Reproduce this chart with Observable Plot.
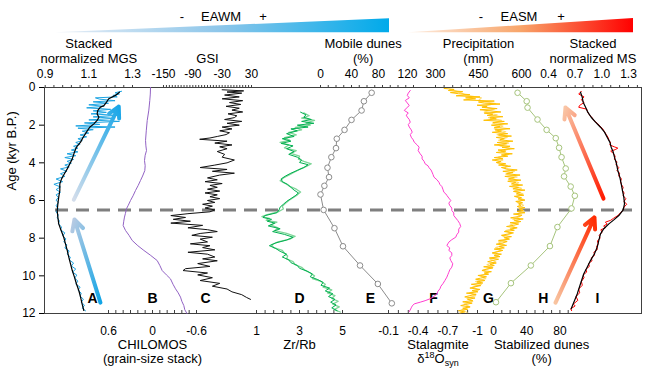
<!DOCTYPE html>
<html><head><meta charset="utf-8">
<script src="https://cdn.jsdelivr.net/npm/d3@7"></script>
<script src="https://cdn.jsdelivr.net/npm/@observablehq/plot@0.6"></script>
<style>
body{margin:0;background:#fff;}
#chart{position:relative;width:650px;height:371px;font-family:"Liberation Sans",Arial,sans-serif;}
#chart svg{position:absolute;left:0;top:0;background:transparent;}
</style></head><body><div id="chart"></div>
<script>
// ---------------- DATA (age kyr B.P., value) ----------------
const ageTicks = [0, 2, 4, 6, 8, 10, 12];
const boundaryAge = [6.5];

// A: stacked normalized MGS
const mgsRaw = [[0.20,1.25],[0.28,1.22],[0.35,1.24],[0.42,1.21],[0.50,1.23],[0.55,1.13],[0.62,1.15],[0.70,1.22],[0.76,1.12],[0.84,1.19],[0.92,1.10],[1.00,1.17],[1.08,1.09],[1.16,1.20],[1.24,1.12],[1.32,1.18],[1.40,1.11],[1.48,1.23],[1.56,1.12],[1.64,1.22],[1.72,1.10],[1.80,1.24],[1.88,1.08],[1.96,1.15],[2.04,1.04],[2.10,1.22],[2.16,1.05],[2.24,1.12],[2.32,1.07],[2.42,1.10],[2.52,1.06],[2.62,1.09],[2.72,1.05],[2.82,1.07],[2.92,1.04],[3.02,1.06],[3.12,1.03],[3.22,1.05],[3.32,1.02],[3.42,1.05],[3.52,1.00],[3.62,1.04],[3.72,0.99],[3.82,1.03],[3.92,1.00],[4.02,1.02],[4.12,0.99],[4.22,1.01],[4.32,0.97],[4.45,1.00],[4.58,0.97],[4.72,0.99],[4.86,0.95],[5.00,0.98],[5.14,0.94],[5.28,0.97],[5.42,0.95],[5.56,0.97],[5.70,0.95],[5.84,0.96],[5.98,0.95],[6.12,0.96],[6.28,0.95],[6.44,0.96],[6.60,0.95],[6.76,0.96],[6.92,0.955],[7.08,0.965],[7.24,0.96],[7.40,0.975],[7.56,0.97],[7.72,0.99],[7.88,0.98],[8.04,0.995],[8.20,0.985],[8.36,1.00],[8.52,0.99],[8.68,1.01],[8.84,1.00],[9.00,1.015],[9.16,1.01],[9.32,1.03],[9.48,1.02],[9.64,1.04],[9.80,1.025],[9.96,1.045],[10.12,1.035],[10.28,1.05],[10.44,1.04],[10.60,1.06],[10.76,1.05],[10.92,1.065],[11.08,1.06],[11.24,1.075],[11.40,1.065],[11.56,1.08],[11.72,1.07],[11.86,1.085]];
const mgsSmooth = [[0.25,1.240],[0.42,1.222],[0.60,1.191],[0.78,1.181],[0.96,1.169],[1.04,1.153],[1.22,1.141],[1.40,1.138],[1.58,1.146],[1.75,1.138],[1.93,1.123],[2.11,1.104],[2.37,1.089],[2.64,1.074],[2.90,1.062],[3.17,1.043],[3.43,1.034],[3.79,1.024],[4.05,1.013],[4.32,1.001],[4.58,0.988],[4.85,0.975],[5.12,0.967],[5.47,0.967],[5.82,0.962],[6.18,0.958],[6.53,0.955],[6.88,0.958],[7.24,0.962],[7.59,0.973],[7.95,0.985],[8.30,0.993],[8.65,1.001],[9.01,1.008],[9.36,1.016],[9.72,1.024],[10.07,1.034],[10.42,1.043],[10.78,1.054],[11.13,1.062],[11.49,1.069],[11.84,1.077]];
const mgsTicks = [0.9,0.94,0.98,1.02,1.06,1.1,1.14,1.18,1.22,1.26,1.3];
const mgsLabels = [0.9, 1.1, 1.3];

// B: CHILOMOS
const chilomos = [[0.00,0.027],[0.35,0.030],[0.69,0.037],[1.2,0.050],[1.75,0.072],[2.3,0.085],[2.81,0.095],[3.1,0.090],[3.35,0.082],[3.6,0.100],[3.88,0.109],[4.15,0.100],[4.41,0.105],[4.7,0.135],[4.94,0.164],[5.2,0.195],[5.47,0.232],[5.75,0.265],[6.0,0.300],[6.25,0.330],[6.44,0.355],[6.7,0.370],[6.88,0.382],[7.1,0.392],[7.33,0.400],[7.59,0.368],[7.85,0.320],[8.12,0.277],[8.4,0.200],[8.65,0.118],[8.9,0.030],[9.19,-0.064],[9.45,-0.100],[9.72,-0.132],[9.95,-0.190],[10.16,-0.245],[10.45,-0.280],[10.69,-0.314],[10.9,-0.350],[11.13,-0.382],[11.35,-0.400],[11.58,-0.427],[11.8,-0.440],[12.0,-0.470]];
const chilTicks = [0.6,0.5,0.4,0.3,0.2,0.1,0,-0.1,-0.2,-0.3,-0.4,-0.5,-0.6];
const chilLabels = [0.6, 0, -0.6];

// C: GSI
const gsi = [[0.12,-30],[0.18,14],[0.24,-20],[0.30,10],[0.40,-25],[0.50,5],[0.60,-30],[0.70,12],[0.80,-15],[0.90,8],[1.00,-22],[1.10,5],[1.20,-10],[1.30,12],[1.40,-18],[1.50,0],[1.60,-5],[1.70,-25],[1.80,10],[1.90,-20],[2.00,5],[2.10,-30],[2.20,-10],[2.30,-35],[2.40,-15],[2.50,-22],[2.60,-40],[2.68,-55],[2.75,-76],[2.85,-20],[2.95,-45],[3.05,-10],[3.15,-35],[3.25,-20],[3.40,-40],[3.55,-25],[3.70,-30],[3.85,-5],[4.00,-20],[4.12,-45],[4.25,-75],[4.35,-20],[4.45,-50],[4.55,-5],[4.65,-35],[4.80,-60],[4.90,-40],[5.00,-65],[5.10,-30],[5.20,-55],[5.30,-40],[5.40,-60],[5.50,-35],[5.60,-65],[5.70,-40],[5.80,-55],[5.90,-35],[6.00,-60],[6.10,-45],[6.20,-70],[6.30,-50],[6.40,-65],[6.50,-45],[6.60,-55],[6.70,-100],[6.80,-135],[6.90,-105],[7.00,-130],[7.10,-95],[7.20,-135],[7.32,-70],[7.45,-100],[7.55,-60],[7.65,-40],[7.75,-75],[7.85,-92],[7.95,-50],[8.05,-75],[8.20,-60],[8.30,-95],[8.40,-55],[8.50,-70],[8.62,-45],[8.75,-100],[8.85,-60],[9.00,-45],[9.10,-70],[9.20,-40],[9.35,-80],[9.50,-55],[9.62,-105],[9.72,-110],[9.85,-60],[9.95,-80],[10.10,-50],[10.25,-75],[10.40,-35],[10.55,-50],[10.70,-20],[10.85,-10],[11.00,10],[11.15,20],[11.25,28]];
const gsiTicks = d3.range(-150, 31, 6);
const gsiLabels = [-150, -90, -30, 30];

// D: Zr/Rb
const zrrbDark = [[1.31,3.05],[1.45,3.30],[1.58,3.20],[1.70,3.55],[1.80,3.10],[1.90,3.67],[2.00,2.90],[2.10,3.40],[2.20,2.60],[2.30,2.90],[2.45,2.40],[2.60,2.75],[2.72,2.20],[2.85,2.60],[2.97,2.15],[3.10,2.70],[3.25,2.40],[3.40,2.75],[3.55,2.50],[3.70,2.90],[3.85,3.10],[3.98,3.00],[4.10,3.40],[4.25,3.20],[4.40,2.90],[4.55,2.60],[4.70,2.35],[4.85,2.15],[5.00,2.20],[5.15,2.45],[5.30,2.60],[5.45,2.75],[5.60,2.95],[5.75,2.80],[5.90,2.60],[6.05,2.40],[6.20,2.25],[6.35,2.10],[6.50,2.05],[6.65,1.95],[6.80,1.40],[6.90,1.30],[7.00,1.70],[7.10,1.50],[7.20,1.85],[7.35,1.55],[7.50,2.10],[7.65,1.75],[7.80,2.30],[7.95,2.70],[8.10,2.40],[8.25,1.90],[8.40,1.60],[8.55,1.90],[8.70,2.10],[8.85,2.40],[9.00,2.20],[9.15,2.50],[9.30,2.60],[9.45,2.90],[9.60,3.00],[9.75,3.35],[9.90,3.60],[10.05,3.50],[10.20,3.85],[10.35,4.10],[10.50,4.00],[10.65,4.40],[10.80,4.20],[10.95,4.55],[11.10,4.35],[11.25,4.65],[11.40,4.45],[11.55,4.70],[11.70,4.50],[11.85,4.75]];
const zrrbLight = [[1.35,3.20],[1.50,3.45],[1.62,3.10],[1.75,3.70],[1.88,3.30],[2.00,3.50],[2.12,2.80],[2.25,3.10],[2.38,2.50],[2.52,2.85],[2.66,2.30],[2.80,2.55],[2.92,2.10],[3.05,2.50],[3.20,2.30],[3.35,2.85],[3.50,2.60],[3.65,3.00],[3.80,2.95],[3.92,3.20],[4.05,3.55],[4.20,3.30],[4.35,3.00],[4.50,2.75],[4.65,2.50],[4.80,2.25],[4.95,2.10],[5.10,2.35],[5.25,2.55],[5.40,2.85],[5.55,3.05],[5.70,2.90],[5.85,2.70],[6.00,2.50],[6.15,2.35],[6.30,2.20],[6.45,2.25],[6.60,2.00],[6.75,1.50],[6.85,1.25],[6.95,1.60],[7.05,1.45],[7.15,1.95],[7.30,1.65],[7.45,2.00],[7.60,1.85],[7.75,2.40],[7.90,2.80],[8.05,2.55],[8.20,2.00],[8.35,1.70],[8.50,1.80],[8.65,2.20],[8.80,2.30],[8.95,2.45],[9.10,2.40],[9.25,2.70],[9.40,2.80],[9.55,3.10],[9.70,3.25],[9.85,3.50],[10.00,3.70],[10.15,3.60],[10.30,4.00],[10.45,4.20],[10.60,4.10],[10.75,4.50],[10.90,4.30],[11.05,4.65],[11.20,4.50],[11.35,4.80],[11.50,4.55],[11.65,4.85],[11.80,4.60],[11.92,4.90]];
const zrTicks = [1,1.4,1.8,2.2,2.6,3,3.4,3.8,4.2,4.6,5];
const zrLabels = [1, 3, 5];

// E: mobile dunes (%)
const mobileDunes = [[0.28,66],[0.73,56],[1.22,53],[1.72,40],[2.25,31],[2.72,21],[3.22,20],[3.70,14],[4.26,9],[4.76,11],[5.22,5],[5.68,0],[6.50,4],[7.47,18],[8.43,29],[9.45,51],[10.43,74],[11.46,92]];
const mobileTicks = [0,10,20,30,40,50,60,70,80,90,100,110,120];
const mobileLabels = [0, 40, 80, 120];

// F: stalagmite d18O
const d18o = [[0.16,-0.32],[0.30,-0.30],[0.42,-0.29],[0.55,-0.31],[0.69,-0.27],[0.82,-0.29],[0.96,-0.31],[1.10,-0.28],[1.22,-0.26],[1.35,-0.30],[1.47,-0.28],[1.57,-0.29],[1.70,-0.31],[1.84,-0.32],[1.97,-0.30],[2.10,-0.31],[2.25,-0.33],[2.37,-0.34],[2.50,-0.32],[2.64,-0.33],[2.78,-0.35],[2.90,-0.36],[3.05,-0.39],[3.17,-0.41],[3.35,-0.40],[3.52,-0.42],[3.65,-0.44],[3.79,-0.44],[3.92,-0.46],[4.05,-0.47],[4.16,-0.50],[4.26,-0.51],[4.38,-0.53],[4.49,-0.54],[4.62,-0.55],[4.76,-0.56],[4.90,-0.59],[5.03,-0.61],[5.15,-0.62],[5.26,-0.64],[5.40,-0.65],[5.56,-0.66],[5.65,-0.68],[5.73,-0.69],[5.87,-0.71],[6.00,-0.73],[6.14,-0.71],[6.27,-0.72],[6.40,-0.74],[6.53,-0.74],[6.66,-0.76],[6.80,-0.76],[6.93,-0.78],[7.06,-0.80],[7.22,-0.82],[7.38,-0.83],[7.52,-0.81],[7.68,-0.81],[7.82,-0.79],[7.95,-0.78],[8.08,-0.74],[8.21,-0.71],[8.30,-0.70],[8.39,-0.69],[8.52,-0.72],[8.65,-0.71],[8.78,-0.74],[8.92,-0.74],[9.05,-0.72],[9.19,-0.73],[9.36,-0.75],[9.54,-0.74],[9.68,-0.72],[9.81,-0.71],[9.94,-0.70],[10.07,-0.69],[10.25,-0.67],[10.42,-0.65],[10.55,-0.63],[10.69,-0.62],[10.82,-0.60],[10.96,-0.59],[11.05,-0.57],[11.13,-0.55],[11.22,-0.52],[11.32,-0.47],[11.40,-0.42],[11.49,-0.36],[11.60,-0.34],[11.70,-0.33],[11.90,-0.31]];
const d18oTicks = [-0.1,-0.2,-0.3,-0.4,-0.5,-0.6,-0.7,-0.8,-0.9,-1];
const d18oLabels = [-0.1, -0.4, -0.7, -1];

// G: precipitation (mm)
const precipGold = [[0.05,330],[0.10,365],[0.16,345],[0.22,395],[0.27,352],[0.33,380],[0.38,420],[0.44,372],[0.50,455],[0.55,405],[0.60,440],[0.66,398],[0.72,505],[0.77,450],[0.83,470],[0.88,525],[0.94,445],[1.00,480],[1.05,462],[1.12,515],[1.18,455],[1.24,490],[1.30,528],[1.36,470],[1.42,500],[1.48,480],[1.55,535],[1.61,490],[1.67,512],[1.74,468],[1.80,540],[1.86,500],[1.93,552],[2.00,495],[2.06,525],[2.12,505],[2.19,560],[2.25,508],[2.32,530],[2.38,498],[2.45,552],[2.52,520],[2.58,565],[2.65,512],[2.72,540],[2.78,525],[2.85,570],[2.92,515],[2.98,548],[3.05,505],[3.12,560],[3.18,532],[3.25,575],[3.32,518],[3.38,545],[3.45,512],[3.52,568],[3.58,530],[3.65,552],[3.72,505],[3.78,535],[3.85,498],[3.92,528],[3.98,512],[4.05,545],[4.12,520],[4.18,562],[4.25,530],[4.32,548],[4.38,585],[4.45,535],[4.52,570],[4.58,548],[4.65,595],[4.72,542],[4.78,575],[4.85,555],[4.92,598],[4.98,552],[5.05,580],[5.12,565],[5.18,604],[5.25,558],[5.32,590],[5.38,570],[5.45,612],[5.52,572],[5.58,596],[5.65,582],[5.72,608],[5.78,575],[5.85,600],[5.92,588],[5.98,612],[6.05,580],[6.12,604],[6.18,590],[6.25,598],[6.32,585],[6.38,612],[6.45,592],[6.52,606],[6.58,585],[6.65,612],[6.72,572],[6.78,602],[6.85,590],[6.92,562],[6.98,606],[7.05,575],[7.12,598],[7.18,560],[7.25,590],[7.32,572],[7.38,548],[7.45,585],[7.52,560],[7.58,575],[7.65,540],[7.72,572],[7.78,552],[7.85,530],[7.92,565],[7.98,540],[8.05,558],[8.12,520],[8.18,550],[8.25,535],[8.32,512],[8.38,548],[8.45,522],[8.52,540],[8.58,505],[8.65,535],[8.72,515],[8.78,498],[8.85,530],[8.92,505],[8.98,525],[9.05,488],[9.12,520],[9.18,500],[9.25,482],[9.32,512],[9.38,490],[9.45,505],[9.52,468],[9.58,500],[9.65,478],[9.72,462],[9.78,495],[9.85,470],[9.92,485],[9.98,448],[10.05,478],[10.12,458],[10.18,440],[10.25,472],[10.32,445],[10.38,465],[10.45,425],[10.52,458],[10.58,438],[10.65,420],[10.72,455],[10.78,428],[10.85,448],[10.92,408],[10.98,442],[11.05,420],[11.12,402],[11.18,438],[11.25,412],[11.32,430],[11.38,395],[11.45,428],[11.52,405],[11.58,388],[11.65,420],[11.72,395],[11.78,412],[11.85,380],[11.92,402],[11.97,385]];
const precipLight = [[0.10,350],[0.25,385],[0.40,405],[0.55,460],[0.70,450],[0.85,510],[1.00,465],[1.15,505],[1.30,470],[1.45,515],[1.60,485],[1.75,530],[1.90,500],[2.05,535],[2.20,505],[2.35,545],[2.50,515],[2.65,550],[2.80,520],[2.95,555],[3.10,525],[3.25,560],[3.40,530],[3.55,555],[3.70,520],[3.85,535],[4.00,515],[4.15,550],[4.30,540],[4.45,575],[4.60,545],[4.75,585],[4.90,555],[5.05,590],[5.20,570],[5.35,600],[5.50,575],[5.65,605],[5.80,580],[5.95,608],[6.10,585],[6.25,607],[6.40,590],[6.55,608],[6.70,585],[6.85,595],[7.00,570],[7.15,590],[7.30,560],[7.45,580],[7.60,545],[7.75,565],[7.90,535],[8.05,555],[8.20,520],[8.35,540],[8.50,510],[8.65,530],[8.80,500],[8.95,520],[9.10,490],[9.25,510],[9.40,480],[9.55,500],[9.70,465],[9.85,485],[10.00,455],[10.15,475],[10.30,440],[10.45,460],[10.60,430],[10.75,450],[10.90,420],[11.05,440],[11.20,410],[11.35,430],[11.50,400],[11.65,420],[11.80,392],[11.95,410]];
const precipTicks = [300,330,360,390,420,450,480,510,540,570,600];
const precipLabels = [300, 450, 600];

// H: stabilized dunes (%)
const stabDunes = [[0.28,29],[0.73,40],[1.07,41],[1.70,53],[2.25,64],[2.69,75],[3.20,79],[3.70,82],[4.30,87],[4.72,85],[5.26,93],[5.75,98],[6.42,94],[7.41,77],[8.42,68],[9.45,45],[10.39,21],[11.40,3]];
const stabTicks = [0,10,20,30,40,50,60,70,80,90];
const stabLabels = [0, 40, 80];

// I: stacked normalized MS
const msRaw = [[0.20,0.77],[0.35,0.74],[0.50,0.80],[0.65,0.77],[0.80,0.80],[0.95,0.75],[1.05,0.74],[1.15,0.83],[1.30,0.84],[1.45,0.86],[1.60,0.89],[1.75,0.91],[1.90,0.95],[2.05,0.98],[2.20,1.01],[2.35,1.03],[2.50,1.05],[2.65,1.07],[2.80,1.08],[2.95,1.10],[3.05,1.09],[3.15,1.14],[3.22,1.18],[3.30,1.15],[3.38,1.10],[3.50,1.13],[3.65,1.15],[3.80,1.14],[3.95,1.17],[4.10,1.16],[4.25,1.19],[4.40,1.17],[4.55,1.20],[4.70,1.19],[4.85,1.22],[5.00,1.21],[5.15,1.22],[5.30,1.24],[5.45,1.23],[5.60,1.25],[5.75,1.24],[5.90,1.27],[6.05,1.25],[6.20,1.28],[6.35,1.25],[6.50,1.24],[6.65,1.21],[6.80,1.18],[6.95,1.13],[7.05,1.10],[7.15,1.04],[7.25,1.06],[7.35,1.02],[7.45,1.04],[7.55,0.99],[7.70,1.00],[7.85,0.97],[8.00,0.98],[8.15,0.95],[8.30,0.96],[8.45,0.94],[8.60,0.95],[8.75,0.91],[8.90,0.92],[9.05,0.88],[9.20,0.89],[9.35,0.85],[9.50,0.86],[9.65,0.82],[9.80,0.83],[9.95,0.79],[10.10,0.80],[10.30,0.77],[10.50,0.78],[10.70,0.74],[10.90,0.75],[11.10,0.71],[11.30,0.73],[11.50,0.68],[11.60,0.70],[11.75,0.65],[11.85,0.66]];
const msSmooth = [[0.25,0.760],[0.51,0.779],[0.78,0.790],[1.04,0.816],[1.31,0.842],[1.58,0.880],[1.84,0.929],[2.11,0.985],[2.37,1.030],[2.64,1.060],[2.90,1.090],[3.17,1.105],[3.43,1.128],[3.70,1.142],[4.05,1.165],[4.41,1.180],[4.76,1.202],[5.12,1.218],[5.47,1.232],[5.82,1.247],[6.18,1.255],[6.50,1.240],[6.80,1.191],[7.03,1.135],[7.24,1.079],[7.50,1.022],[7.77,0.985],[8.12,0.966],[8.48,0.948],[8.83,0.917],[9.19,0.872],[9.54,0.835],[9.89,0.797],[10.42,0.760],[10.96,0.723],[11.40,0.685],[11.75,0.655]];
const msTicks = [0.4,0.5,0.6,0.7,0.8,0.9,1.0,1.1,1.2,1.3,1.4];
const msLabels = [0.4, 0.7, 1.0, 1.3];

// Trend arrows (in panel units)
const arrowsA = [
  {age1: 11.42, v1: 1.153, age2: 7.01, v2: 1.034, grad: "url(#gArrA1)"},
  {age1: 5.96, v1: 1.031, age2: 1.01, v2: 1.237, grad: "url(#gArrA2)"}
];
const arrowsI = [
  {age1: 11.42, v1: 0.479, age2: 6.90, v2: 0.917, grad: "url(#gArrI1)"},
  {age1: 5.90, v1: 1.019, age2: 1.06, v2: 0.591, grad: "url(#gArrI2)"}
];

// ---------------- RENDER ----------------
const FONT = '"Liberation Sans", Arial, sans-serif';
const rows = a => a.map(([age, v]) => ({age, v}));
const frameM = {marginLeft: 44, marginRight: 9, marginTop: 87, marginBottom: 58};
const chart = document.getElementById("chart");

chart.insertAdjacentHTML("beforeend", `
<svg width="650" height="371" viewBox="0 0 650 371" font-family='${FONT}' font-size="13">
<defs>
<linearGradient id="gWinter" x1="0" x2="1" y1="0" y2="0"><stop offset="0" stop-color="#e9eef6"/><stop offset="0.5" stop-color="#8cc6ea"/><stop offset="1" stop-color="#00aaea"/></linearGradient>
<linearGradient id="gSummer" x1="0" x2="1" y1="0" y2="0"><stop offset="0" stop-color="#fdeee2"/><stop offset="0.5" stop-color="#f8a56a"/><stop offset="1" stop-color="#ff0000"/></linearGradient>
<linearGradient id="gArrA1" x1="1" y1="1" x2="0" y2="0"><stop offset="0" stop-color="#12a5e6"/><stop offset="1" stop-color="#b9cbe3"/></linearGradient>
<linearGradient id="gArrA2" x1="0" y1="1" x2="1" y2="0"><stop offset="0" stop-color="#d3ddeb"/><stop offset="1" stop-color="#18a6e8"/></linearGradient>
<linearGradient id="gArrI1" x1="0" y1="1" x2="1" y2="0"><stop offset="0" stop-color="#f8c4a0"/><stop offset="1" stop-color="#ff2a00"/></linearGradient>
<linearGradient id="gArrI2" x1="1" y1="1" x2="0" y2="0"><stop offset="0" stop-color="#ff1a00"/><stop offset="1" stop-color="#f9c6a6"/></linearGradient>
</defs>
<polygon points="55,32.3 389,18.3 389,32.3" fill="url(#gWinter)"/>
<polygon points="408,32.3 633,18 633,32.3" fill="url(#gSummer)"/>
<text x="182" y="20.5" text-anchor="middle">-</text>
<text x="221" y="20.5" text-anchor="middle">EAWM</text>
<text x="263" y="20.5" text-anchor="middle">+</text>
<text x="481" y="20.5" text-anchor="middle">-</text>
<text x="519" y="20.5" text-anchor="middle">EASM</text>
<text x="561" y="20.5" text-anchor="middle">+</text>
</svg>`);

function add(svg) {
  svg.style.background = "transparent";
  svg.style.position = "absolute";
  svg.style.left = "0px";
  svg.style.top = "0px";
  chart.appendChild(svg);
  return svg;
}

const base = Plot.plot({
  width: 650, height: 371, ...frameM,
  style: {background: "transparent", fontFamily: FONT, fontSize: "13px", color: "#000"},
  x: {domain: [0, 1], axis: null},
  y: {domain: [0, 12], reverse: true},
  marks: [
    Plot.axisY(ageTicks, {tickSize: 5, tickPadding: 4, label: null, fontSize: 12, tickFormat: d => String(d)}),
    Plot.text([{t: "Age (kyr B.P.)"}], {text: "t", frameAnchor: "left", rotate: -90, dx: -33, dy: -10}),
    Plot.ruleY(boundaryAge, {stroke: "#7f7f7f", strokeWidth: 3, strokeDasharray: "13,8", insetLeft: 11, insetRight: 9}),
    Plot.frame({stroke: "#404040"})
  ]
});
add(base);

function panel(cfg) {
  const top = cfg.anchor === "top";
  const labelSets = cfg.labelShift || [[cfg.labels, 0]];
  const marks = [
    Plot.axisX(cfg.ticks, {anchor: cfg.anchor, tickSize: top ? 3 : -3, tickFormat: () => "", label: null, stroke: "#404040"}),
    ...labelSets.map(([labs, dx]) => Plot.axisX(labs, {anchor: cfg.anchor, tickSize: 0, tickPadding: top ? 10 : 13, fontSize: 12, dx, tickFormat: cfg.fmt, label: null})),
    Plot.text([{t: cfg.title, x: cfg.titleAt}], top
      ? {x: "x", text: "t", frameAnchor: "top", lineAnchor: "bottom", lineHeight: 1.15, dy: -24.5}
      : {x: "x", text: "t", frameAnchor: "bottom", lineAnchor: "top", lineHeight: 1.15, dy: 24.4}),
    Plot.text([{t: cfg.letter, x: cfg.letterAt}], {x: "x", text: "t", frameAnchor: "bottom", dy: -10.5, fontWeight: "bold", fontSize: 14}),
    ...cfg.marks
  ];
  const svg = Plot.plot({
    width: 650, height: 371, ...frameM,
    style: {background: "transparent", fontFamily: FONT, fontSize: "13px", color: "#000"},
    x: {domain: cfg.domain, range: cfg.range},
    y: {domain: [0, 12], reverse: true, axis: null},
    marks
  });
  return add(svg);
}

const f1 = d => d.toFixed(1);

panel({domain: [0.9, 1.3], range: [44.7, 132], anchor: "top", ticks: mgsTicks, labels: mgsLabels, fmt: f1,
  title: "Stacked\nnormalized MGS", titleAt: 1.1, letter: "A", letterAt: 1.117,
  marks: [
    Plot.line(rows(mgsRaw), {x: "v", y: "age", stroke: "#1ea5e3", strokeWidth: 1}),
    Plot.line(rows(mgsSmooth), {x: "v", y: "age", stroke: "#000", strokeWidth: 1.2}),
    ...arrowsA.map(a => Plot.arrow([a], {x1: "v1", y1: "age1", x2: "v2", y2: "age2", stroke: a.grad, strokeWidth: 4, headLength: 4.5, headAngle: 55}))
  ]});

panel({domain: [0.6, -0.6], range: [108, 196], anchor: "bottom", ticks: chilTicks, labels: chilLabels,
  fmt: d => d === 0 ? "0" : d.toFixed(1),
  title: "CHILOMOS\n(grain-size stack)", titleAt: 0, letter: "B", letterAt: 0,
  marks: [Plot.line(rows(chilomos), {x: "v", y: "age", stroke: "#9262c4", strokeWidth: 1})]});

panel({domain: [-150, 30], range: [163, 251], anchor: "top", ticks: gsiTicks, labels: gsiLabels, fmt: d => String(d),
  title: "GSI", titleAt: -60, letter: "C", letterAt: -64,
  marks: [Plot.line(rows(gsi), {x: "v", y: "age", stroke: "#111", strokeWidth: 1})]});

panel({domain: [1, 5], range: [256, 342], anchor: "bottom", ticks: zrTicks, labels: zrLabels, fmt: d => String(d),
  title: "Zr/Rb", titleAt: 3, letter: "D", letterAt: 3,
  marks: [
    Plot.line(rows(zrrbLight), {x: "v", y: "age", stroke: "#7fd699", strokeWidth: 1.3}),
    Plot.line(rows(zrrbDark), {x: "v", y: "age", stroke: "#00b050", strokeWidth: 1})
  ]});

panel({domain: [0, 120], range: [320, 413], anchor: "top", ticks: mobileTicks, labels: mobileLabels, fmt: d => String(d),
  labelShift: [[[0, 40], 0], [[80], -4], [[120], -6]],
  title: "Mobile dunes\n(%)", titleAt: 55, letter: "E", letterAt: 64.5,
  marks: [
    Plot.line(rows(mobileDunes), {x: "v", y: "age", stroke: "#8c8c8c", strokeWidth: 1}),
    Plot.dot(rows(mobileDunes), {x: "v", y: "age", r: 2.8, stroke: "#8c8c8c", fill: "white", strokeWidth: 1})
  ]});

const fSvg = panel({domain: [-0.1, -1], range: [388, 477], anchor: "bottom", ticks: d18oTicks, labels: d18oLabels,
  fmt: d => d === -1 ? "-1" : d.toFixed(1),
  title: "Stalagmite\nδ18Osyn", titleAt: -0.6, letter: "F", letterAt: -0.555,
  marks: [Plot.line(rows(d18o), {x: "v", y: "age", stroke: "#ff3dcf", strokeWidth: 1})]});
fSvg.querySelectorAll("tspan, text").forEach(el => {
  if (el.childElementCount === 0 && el.textContent === "δ18Osyn") {
    el.textContent = "";
    const ns = "http://www.w3.org/2000/svg";
    const parts = [["δ", null, 0], ["18", "9px", -5], ["O", null, 5], ["syn", "9px", 3]];
    parts.forEach(([t, fs, dy]) => {
      const s = document.createElementNS(ns, "tspan");
      if (fs) s.setAttribute("font-size", fs);
      if (dy) s.setAttribute("dy", dy);
      s.textContent = t;
      el.appendChild(s);
    });
  }
});

panel({domain: [300, 600], range: [435, 521], anchor: "top", ticks: precipTicks, labels: precipLabels, fmt: d => String(d),
  title: "Precipitation\n(mm)", titleAt: 450, letter: "G", letterAt: 485,
  marks: [
    Plot.line(rows(precipLight), {x: "v", y: "age", stroke: "#ffdc73", strokeWidth: 1.2}),
    Plot.line(rows(precipGold), {x: "v", y: "age", stroke: "#ffc000", strokeWidth: 1})
  ]});

panel({domain: [0, 90], range: [493, 567.7], anchor: "bottom", ticks: stabTicks, labels: stabLabels, fmt: d => String(d),
  title: "Stabilized dunes\n(%)", titleAt: 58, letter: "H", letterAt: 60,
  marks: [
    Plot.line(rows(stabDunes), {x: "v", y: "age", stroke: "#a6c47c", strokeWidth: 1}),
    Plot.dot(rows(stabDunes), {x: "v", y: "age", r: 2.8, stroke: "#a6c47c", fill: "white", strokeWidth: 1})
  ]});

panel({domain: [0.4, 1.4], range: [548, 636.9], anchor: "top", ticks: msTicks, labels: msLabels, fmt: f1,
  title: "Stacked\nnormalized MS", titleAt: 0.9, letter: "I", letterAt: 0.951,
  marks: [
    ...arrowsI.map(a => Plot.arrow([a], {x1: "v1", y1: "age1", x2: "v2", y2: "age2", stroke: a.grad, strokeWidth: 4, headLength: 4.5, headAngle: 55})),
    Plot.line(rows(msRaw), {x: "v", y: "age", stroke: "#ff0000", strokeWidth: 1}),
    Plot.line(rows(msSmooth), {x: "v", y: "age", stroke: "#000", strokeWidth: 1.2})
  ]});
</script></body></html>
